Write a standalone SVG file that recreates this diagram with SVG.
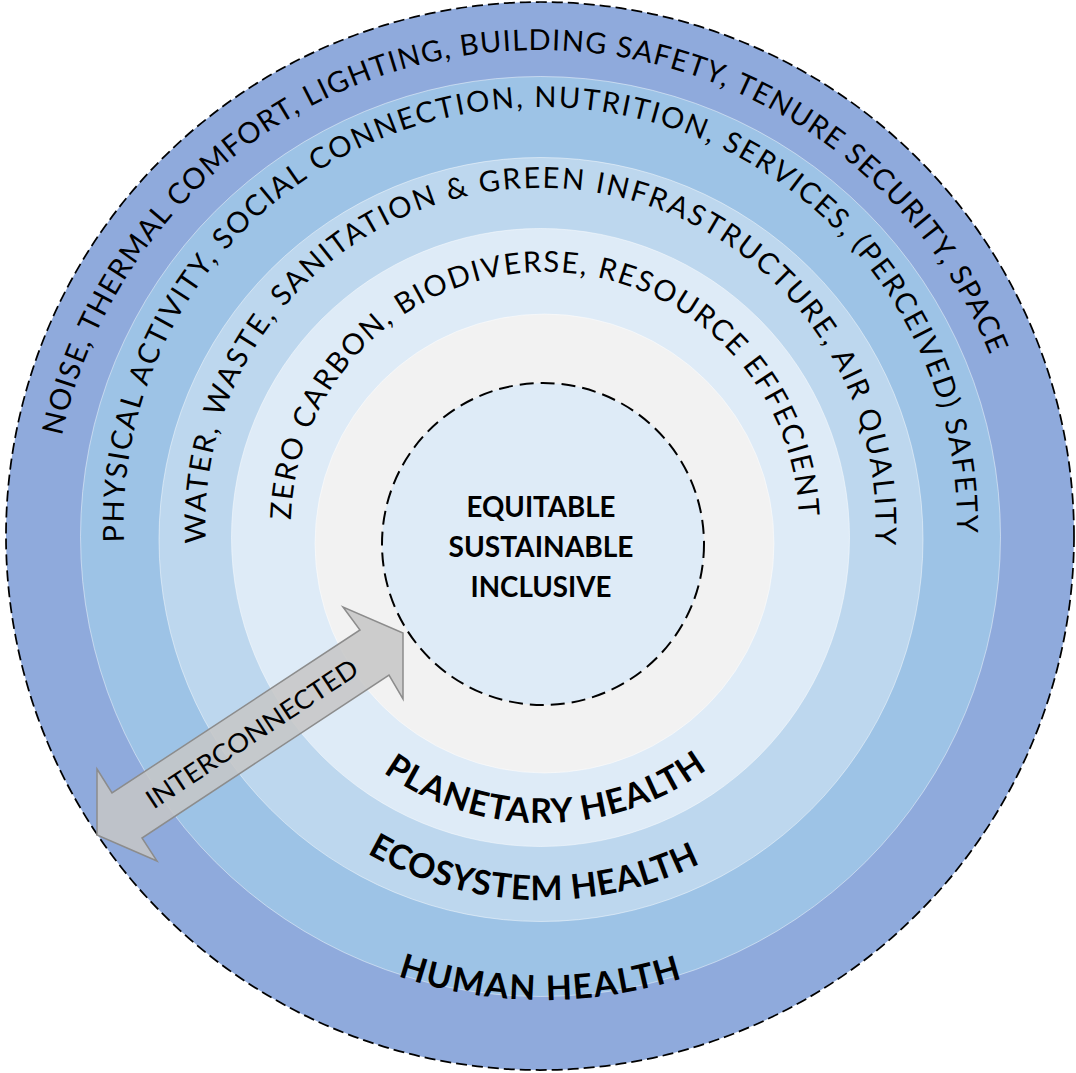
<svg xmlns="http://www.w3.org/2000/svg" width="1076" height="1073" viewBox="0 0 1076 1073">
  <style>
    .ring { stroke: #ffffff; stroke-opacity: 0.45; stroke-width: 1; }
    .dashed { stroke: #000000; }
    .arc { font-family: Lato, "Open Sans", "Liberation Sans", sans-serif; font-size: 29px; fill: #000000; }
    .title { font-family: Lato, "Open Sans", "Liberation Sans", sans-serif; font-size: 34px; font-weight: 700; fill: #000000; }
    .core { font-family: Lato, "Open Sans", "Liberation Sans", sans-serif; font-size: 28px; font-weight: 700; fill: #000000; text-anchor: middle; }
    .arrow { fill: #c6c6c6; fill-opacity: 0.86; stroke: #8c8c8c; stroke-width: 1.5; stroke-linejoin: miter; }
    .arrow-label { font-family: Lato, "Open Sans", "Liberation Sans", sans-serif; font-size: 26px; fill: #000000; text-anchor: middle; }
  </style>
  <defs>
    <!-- baselines for the curved ring captions (clockwise over the top) -->
    <path id="p-human" d="M62,436 A486.9,486.9 0 0 1 990,355.1"/>
    <path id="p-ecosystem" d="M124,542 A416.75,416.75 0 1 1 957,533"/>
    <path id="p-planetary" d="M206,543 A335.1,335.1 0 1 1 875,543"/>
    <path id="p-core" d="M291,520 A254.1,254.1 0 0 1 799,518"/>
    <!-- baselines for the bold layer titles (left to right along the bottom) -->
    <path id="b-planetary" d="M383.1,772.4 A278,278 0 0 0 707.2,769.3"/>
    <path id="b-ecosystem" d="M367.1,853.4 A355,355 0 0 0 700.3,863.3"/>
    <path id="b-human" d="M397.9,976.2 A455,455 0 0 0 682.1,978.2"/>
  </defs>

  <rect width="1076" height="1073" fill="#ffffff"/>

  <g id="layer-human">
    <circle cx="540" cy="536" r="534" fill="#8faadc" class="dashed" stroke-width="1.75" stroke-dasharray="11 5"/>
  </g>
  <g id="layer-ecosystem">
    <circle cx="540.5" cy="536.5" r="460" fill="#9dc3e6" class="ring"/>
  </g>
  <g id="layer-planetary">
    <circle cx="541" cy="539.5" r="382" fill="#bdd7ee" class="ring"/>
  </g>
  <g id="layer-resources">
    <circle cx="540.5" cy="537.5" r="309" fill="#deebf7" class="ring"/>
  </g>
  <g id="layer-buffer">
    <circle cx="544.5" cy="543.5" r="229.5" fill="#f2f2f2" class="ring"/>
  </g>

  <g id="core">
    <circle cx="543" cy="544" r="161" fill="#deebf7" class="dashed" stroke-width="2" stroke-dasharray="14 7"/>
    <text class="core" x="541" y="517" textLength="149" lengthAdjust="spacingAndGlyphs">EQUITABLE</text>
    <text class="core" x="541" y="557" textLength="185" lengthAdjust="spacingAndGlyphs">SUSTAINABLE</text>
    <text class="core" x="541" y="597" textLength="141" lengthAdjust="spacingAndGlyphs">INCLUSIVE</text>
  </g>

  <g id="captions">
    <text class="arc"><textPath href="#p-human" textLength="1241" lengthAdjust="spacing">NOISE, THERMAL COMFORT, LIGHTING, BUILDING SAFETY, TENURE SECURITY, SPACE</textPath></text>
    <text class="arc"><textPath href="#p-ecosystem" textLength="1336" lengthAdjust="spacing">PHYSICAL ACTIVITY, SOCIAL CONNECTION, NUTRITION, SERVICES, (PERCEIVED) SAFETY</textPath></text>
    <text class="arc"><textPath href="#p-planetary" textLength="1094" lengthAdjust="spacing">WATER, WASTE, SANITATION &amp; GREEN INFRASTRUCTURE, AIR QUALITY</textPath></text>
    <text class="arc"><textPath href="#p-core" textLength="782" lengthAdjust="spacing">ZERO CARBON, BIODIVERSE, RESOURCE EFFECIENT</textPath></text>
  </g>

  <g id="titles">
    <text class="title"><textPath href="#b-planetary" textLength="346" lengthAdjust="spacing">PLANETARY HEALTH</textPath></text>
    <text class="title"><textPath href="#b-ecosystem" textLength="347" lengthAdjust="spacing">ECOSYSTEM HEALTH</textPath></text>
    <text class="title"><textPath href="#b-human" textLength="289" lengthAdjust="spacing">HUMAN HEALTH</textPath></text>
  </g>

  <g id="connectors">
    <polygon class="arrow" points="97,769 112,793 360,630 343,607 403,633 403,699 389,675 142,838 157,861 97,835"/>
    <text class="arrow-label" transform="translate(252,734) rotate(-33.4)" x="0" y="9" textLength="248" lengthAdjust="spacingAndGlyphs">INTERCONNECTED</text>
  </g>
</svg>
